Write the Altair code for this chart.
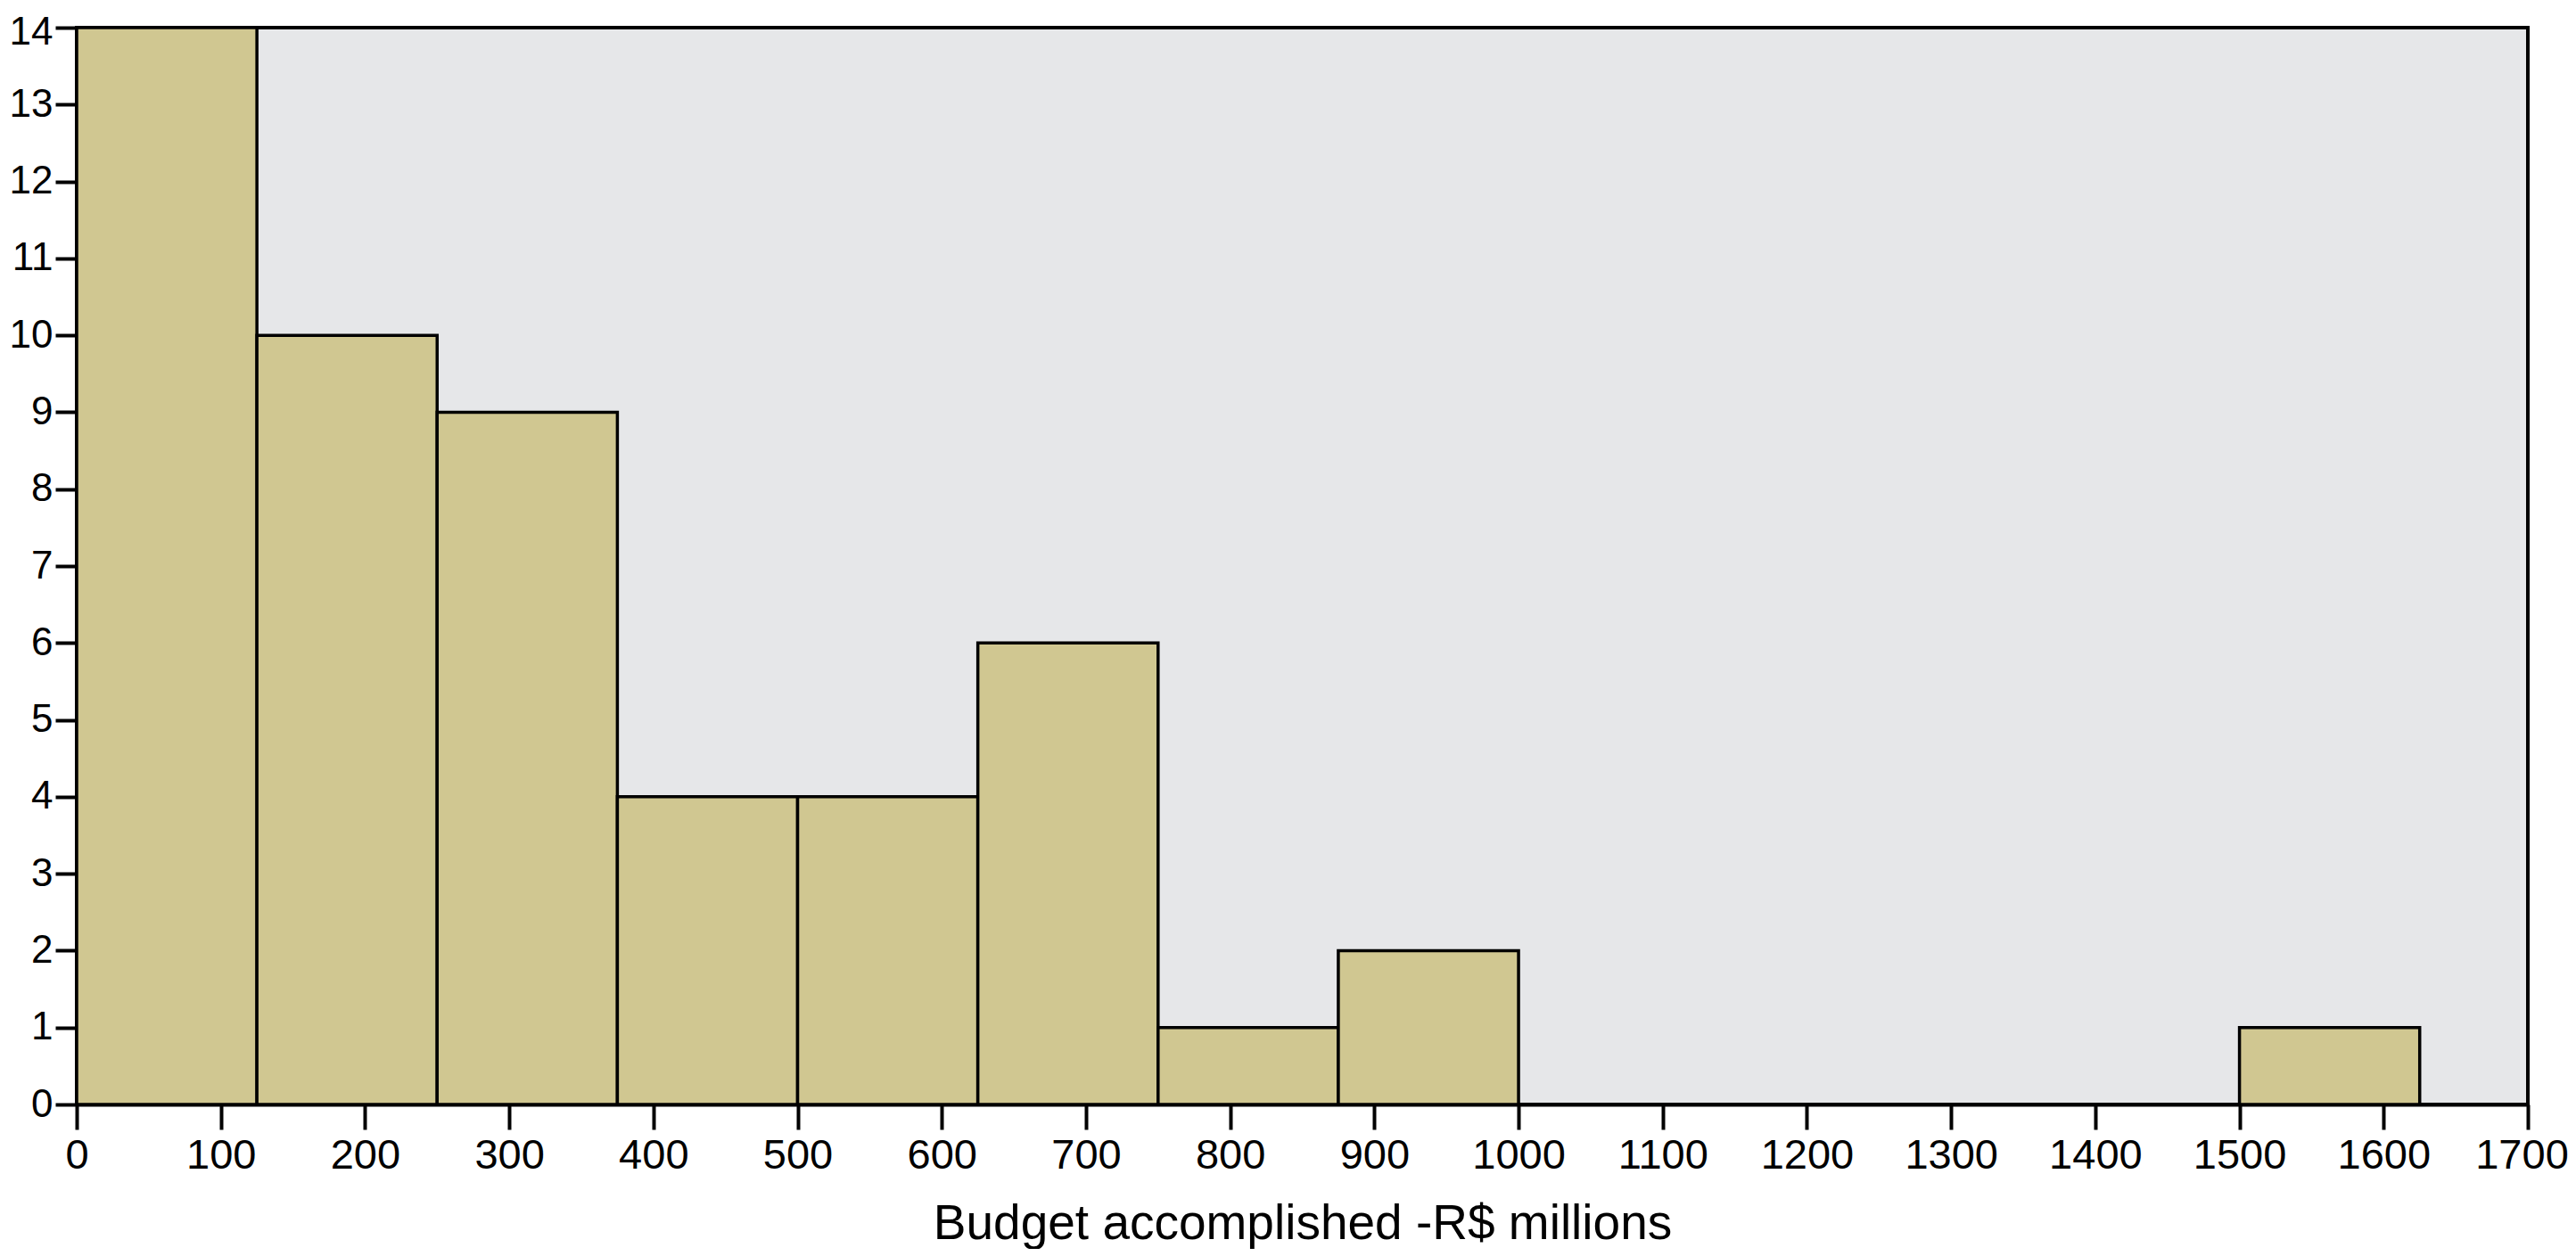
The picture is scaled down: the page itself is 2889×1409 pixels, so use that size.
import altair as alt
import pandas as pd

bin_start = [0, 125, 250, 375, 500, 625, 750, 875, 1000, 1125, 1250, 1375, 1500]
bin_end = [125, 250, 375, 500, 625, 750, 875, 1000, 1125, 1250, 1375, 1500, 1625]
counts = [14, 10, 9, 4, 4, 6, 1, 2, 0, 0, 0, 0, 1]

x_ticks = list(range(0, 1701, 100))
y_ticks = list(range(0, 15))

df = pd.DataFrame({"start": bin_start, "end": bin_end, "count": counts})
df = df[df["count"] > 0]

FONT = "Liberation Sans"

chart = (
    alt.Chart(df)
    .mark_rect(fill="#D0C791", stroke="black", strokeWidth=3.5)
    .encode(
        x=alt.X(
            "start:Q",
            scale=alt.Scale(domain=[0, 1700], nice=False, zero=True),
            axis=alt.Axis(
                values=x_ticks,
                format="d",
                title="Budget accomplished -R$ millions",
                titleFont=FONT,
                titleFontSize=55,
                titleFontWeight="normal",
                titleColor="black",
                titlePadding=27,
                labelFont=FONT,
                labelFontSize=47,
                labelColor="black",
                labelPadding=6,
                labelFlush=False,
                labelOffset={"condition": {"test": "datum.value == 1700", "value": -7}, "value": 0},
                tickSize=28,
                tickWidth=4,
                tickColor="black",
                domainColor="black",
                domainWidth=4,
                grid=False,
            ),
        ),
        x2="end:Q",
        y=alt.Y(
            "count:Q",
            scale=alt.Scale(domain=[0, 14], nice=False),
            axis=alt.Axis(
                values=y_ticks,
                format="d",
                title=None,
                labelFont=FONT,
                labelFontSize=44,
                labelColor="black",
                labelPadding=3,
                labelFlush=False,
                labelOffset={"condition": {"test": "datum.value == 14", "value": 5}, "value": 0},
                tickSize=24,
                tickWidth=4,
                tickColor="black",
                domainColor="black",
                domainWidth=4,
                grid=False,
            ),
        ),
        y2=alt.datum(0),
    )
    .properties(
        width=2749,
        height=1208,
        autosize=alt.AutoSizeParams(type="none"),
        padding={"left": 78, "top": 23, "right": 46, "bottom": 162},
        background="white",
    )
    .configure_view(fill="#E6E7E9", stroke="black", strokeWidth=4)
)

chart.save("out.html", embed_options={"renderer": "svg", "actions": False})
